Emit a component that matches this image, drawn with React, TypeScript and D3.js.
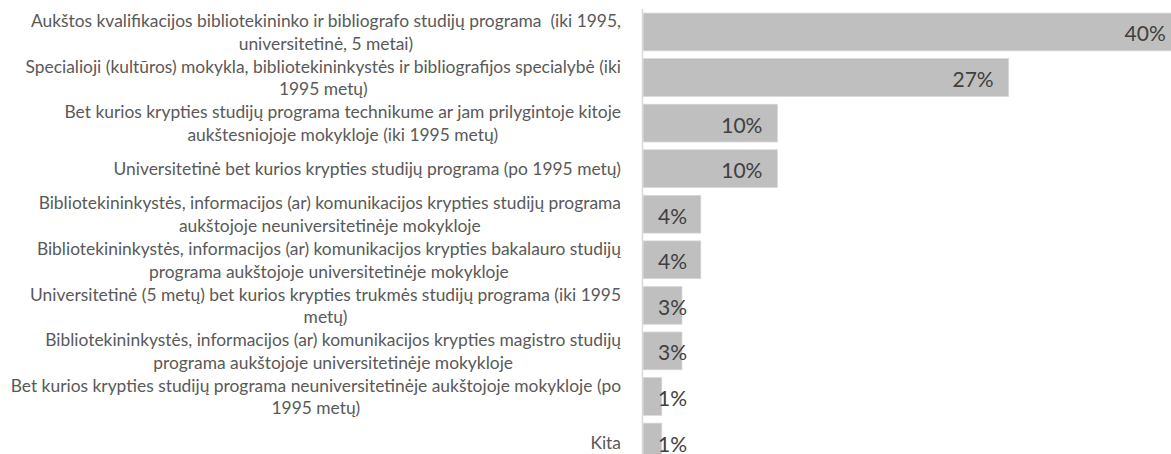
import React, { useRef, useEffect } from "react";
import * as d3 from "d3";

const categories: string[][] = [
  ["Aukštos kvalifikacijos bibliotekininko ir bibliografo studijų programa  (iki 1995,", "universitetinė, 5 metai)"],
  ["Specialioji (kultūros) mokykla, bibliotekininkystės ir bibliografijos specialybė (iki", "1995 metų)"],
  ["Bet kurios krypties studijų programa technikume ar jam prilygintoje kitoje", "aukštesniojoje mokykloje (iki 1995 metų)"],
  ["Universitetinė bet kurios krypties studijų programa (po 1995 metų)"],
  ["Bibliotekininkystės, informacijos (ar) komunikacijos krypties studijų programa", "aukštojoje neuniversitetinėje mokykloje"],
  ["Bibliotekininkystės, informacijos (ar) komunikacijos krypties bakalauro studijų", "programa aukštojoje universitetinėje mokykloje"],
  ["Universitetinė (5 metų) bet kurios krypties trukmės studijų programa (iki 1995", "metų)"],
  ["Bibliotekininkystės, informacijos (ar) komunikacijos krypties magistro studijų", "programa aukštojoje universitetinėje mokykloje"],
  ["Bet kurios krypties studijų programa neuniversitetinėje aukštojoje mokykloje (po", "1995 metų)"],
  ["Kita"],
];

// shares of respondents, %
const values = [40.0, 27.2, 10.0, 10.0, 4.3, 4.3, 2.9, 2.9, 1.4, 1.4];

const WIDTH = 1171;
const HEIGHT = 454;
const FONT = "Lato, 'Open Sans', sans-serif";

const App = () => {
  const svgRef = useRef<SVGSVGElement>(null);

  useEffect(() => {
    const svg = d3.select(svgRef.current);
    svg.selectAll("*").remove();

    const x = d3.scaleLinear().domain([0, 45]).range([643, 643 + 605]);
    const y = d3
      .scaleBand<number>()
      .domain(d3.range(values.length))
      .range([8.5, 8.5 + 457])
      .paddingInner(0.17)
      .paddingOuter(0.1);

    // bars
    svg
      .selectAll(".bar")
      .data(values)
      .join("rect")
      .attr("class", "bar")
      .attr("x", x(0))
      .attr("y", (d, i) => y(i)!)
      .attr("width", (d) => x(d) - x(0))
      .attr("height", y.bandwidth())
      .attr("fill", "#bfbfbf")
      .attr("stroke", "#d9d9d9")
      .attr("stroke-width", 0.75);

    // axis line
    svg
      .append("line")
      .attr("x1", 642.5)
      .attr("x2", 642.5)
      .attr("y1", 9)
      .attr("y2", HEIGHT)
      .attr("stroke", "#d9d9d9")
      .attr("stroke-width", 1.5);

    // value labels
    svg
      .selectAll(".val")
      .data(values)
      .join("text")
      .attr("class", "val")
      .attr("x", (d) => Math.max(x(d) - 15, x(0) + 44))
      .attr("y", (d, i) => y(i)! + y.bandwidth() / 2 + 1)
      .attr("text-anchor", "end")
      .attr("dominant-baseline", "central")
      .attr("font-family", FONT)
      .attr("font-size", 21)
      .attr("fill", "#404040")
      .text((d) => `${Math.round(d)}%`);

    // category labels, wrapped lines centred inside a right-aligned block
    const right = 621;
    const lineH = 22.5;
    categories.forEach((lines, i) => {
      const g = svg.append("g");
      const cy = y(i)! + y.bandwidth() / 2;
      const texts = lines.map((ln, k) =>
        g
          .append("text")
          .attr("y", cy + (k - (lines.length - 1) / 2) * lineH)
          .attr("dominant-baseline", "central")
          .attr("text-anchor", "middle")
          .attr("font-family", FONT)
          .attr("font-size", 17.4)
          .attr("fill", "#595959")
          .style("white-space", "pre")
          .text(ln)
      );
      const maxW = d3.max(texts, (t) => (t.node() as SVGTextElement).getComputedTextLength()) || 0;
      texts.forEach((t) => t.attr("x", right - maxW / 2));
    });
  }, []);

  return (
    <svg
      ref={svgRef}
      width={WIDTH}
      height={HEIGHT}
      style={{ position: "absolute", left: 0, top: 0, background: "#fff" }}
    />
  );
};

export default App;
